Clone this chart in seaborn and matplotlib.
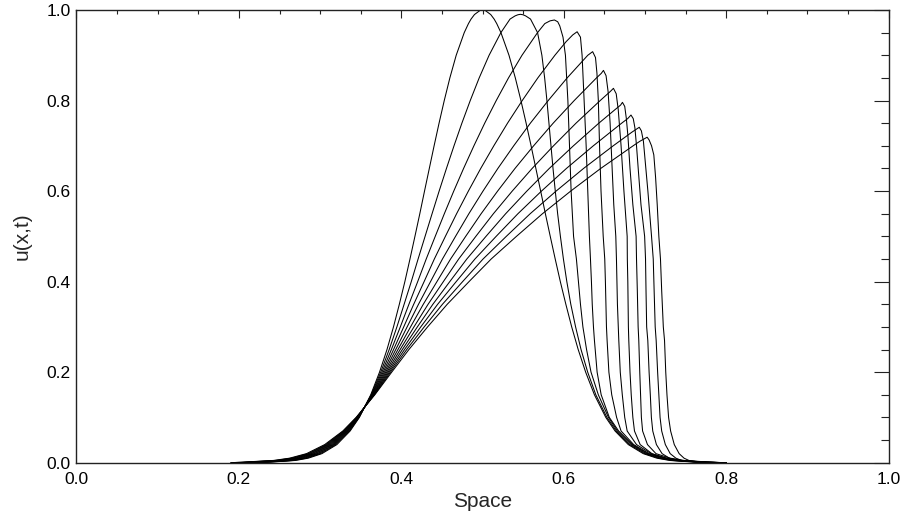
import matplotlib
matplotlib.use("Agg")
import matplotlib.pyplot as plt
import seaborn as sns
import pandas as pd
from matplotlib.ticker import MultipleLocator, FormatStrFormatter

# ---- data: u(x,t) profiles at 11 successive times ----
X_T00 = [0.20, 0.2372, 0.2698, 0.2854, 0.3022, 0.3206, 0.3369, 0.3483, 0.3623, 0.3731, 0.3823, 0.3903, 0.3975, 0.4043, 0.4106, 0.4167, 0.4227, 0.4285, 0.4344, 0.4403, 0.4464, 0.4528, 0.4597, 0.4675, 0.4774, 0.4826, 0.4858, 0.4900, 0.4968, 0.5000, 0.5032, 0.5100, 0.5142, 0.5174, 0.5226, 0.5325, 0.5403, 0.5472, 0.5536, 0.5597, 0.5656, 0.5715, 0.5773, 0.5833, 0.5894, 0.5957, 0.6025, 0.6097, 0.6177, 0.6269, 0.6377, 0.6517, 0.6631, 0.6794, 0.6978, 0.7146, 0.7302, 0.7628, 0.80]
U_T00 = [0.0, 0.001, 0.005, 0.01, 0.02, 0.04, 0.07, 0.1, 0.15, 0.2, 0.25, 0.3, 0.35, 0.4, 0.45, 0.5, 0.55, 0.6, 0.65, 0.7, 0.75, 0.8, 0.85, 0.9, 0.95, 0.97, 0.98, 0.99, 0.999, 1.0, 0.999, 0.99, 0.98, 0.97, 0.95, 0.9, 0.85, 0.8, 0.75, 0.7, 0.65, 0.6, 0.55, 0.5, 0.45, 0.4, 0.35, 0.3, 0.25, 0.2, 0.15, 0.1, 0.07, 0.04, 0.02, 0.01, 0.005, 0.001, 0.0]

X_T01 = [0.20, 0.2337, 0.2671, 0.2831, 0.3003, 0.3191, 0.3360, 0.3479, 0.3628, 0.3746, 0.3850, 0.3945, 0.4034, 0.4122, 0.4206, 0.4292, 0.4378, 0.4465, 0.4555, 0.4648, 0.4745, 0.4848, 0.4958, 0.5080, 0.5225, 0.5338, 0.5400, 0.5435,
         0.5465,
         0.5497, 0.5530, 0.5590, 0.5677, 0.5730, 0.5764, 0.5792, 0.5817, 0.5842, 0.5867, 0.5895, 0.5924, 0.5958, 0.5995, 0.6037, 0.6086, 0.6145, 0.6212, 0.6294, 0.6394, 0.6531, 0.6645, 0.6811, 0.6997, 0.7169, 0.7329, 0.7663, 0.80]
U_T01 = [0.0, 0.001, 0.005, 0.01, 0.02, 0.04, 0.07, 0.1, 0.15, 0.2, 0.25, 0.3, 0.35, 0.4, 0.45, 0.5, 0.55, 0.6, 0.65, 0.7, 0.75, 0.8, 0.85, 0.9, 0.95, 0.98, 0.987, 0.9895,
         0.9905,
         0.9895, 0.987, 0.98, 0.95, 0.9, 0.85, 0.8, 0.75, 0.7, 0.65, 0.6, 0.55, 0.5, 0.45, 0.4, 0.35, 0.3, 0.25, 0.2, 0.15, 0.1, 0.07, 0.04, 0.02, 0.01, 0.005, 0.001, 0.0]

X_T02 = [0.20, 0.2302, 0.2644, 0.2808, 0.2984, 0.3176, 0.3351, 0.3475, 0.3633, 0.3761, 0.3877, 0.3987, 0.4093, 0.4201, 0.4306, 0.4417, 0.4529, 0.4645, 0.4766, 0.4893, 0.5026, 0.5168, 0.5319, 0.5485, 0.5676, 0.5766, 0.5830,
         0.5884,
         0.5925, 0.5950, 0.5990, 0.6020, 0.6050, 0.6070, 0.6090, 0.6120, 0.6155, 0.6180, 0.6205, 0.6235, 0.6280, 0.6335, 0.6425, 0.6550, 0.6660, 0.6830, 0.7016, 0.7192, 0.7356, 0.7698, 0.80]
U_T02 = [0.0, 0.001, 0.005, 0.01, 0.02, 0.04, 0.07, 0.1, 0.15, 0.2, 0.25, 0.3, 0.35, 0.4, 0.45, 0.5, 0.55, 0.6, 0.65, 0.7, 0.75, 0.8, 0.85, 0.9, 0.95, 0.97, 0.976,
         0.978,
         0.974, 0.965, 0.94, 0.9, 0.8, 0.7, 0.6, 0.5, 0.45, 0.4, 0.35, 0.3, 0.25, 0.2, 0.15, 0.1, 0.07, 0.04, 0.02, 0.01, 0.005, 0.001, 0.0]

X_T03 = [0.20, 0.2267, 0.2617, 0.2785, 0.2965, 0.3161, 0.3342, 0.3471, 0.3638, 0.3776, 0.3904, 0.4029, 0.4152, 0.4280, 0.4406, 0.4542, 0.4680, 0.4825, 0.4977, 0.5138, 0.5307, 0.5488, 0.5680, 0.5890, 0.6028, 0.6110,
         0.6164,
         0.6205, 0.6225, 0.6250, 0.6275, 0.6295, 0.6315, 0.6328, 0.6340, 0.6350, 0.6365, 0.6377, 0.6410, 0.6460, 0.6560, 0.6675, 0.6845, 0.7035, 0.7215, 0.7380, 0.7730, 0.80]
U_T03 = [0.0, 0.001, 0.005, 0.01, 0.02, 0.04, 0.07, 0.1, 0.15, 0.2, 0.25, 0.3, 0.35, 0.4, 0.45, 0.5, 0.55, 0.6, 0.65, 0.7, 0.75, 0.8, 0.85, 0.9, 0.93, 0.945,
         0.952,
         0.94, 0.9, 0.8, 0.7, 0.6, 0.5, 0.45, 0.4, 0.35, 0.3, 0.27, 0.2, 0.15, 0.1, 0.07, 0.04, 0.02, 0.01, 0.005, 0.001, 0.0]

X_T04 = [0.20, 0.2232, 0.2590, 0.2762, 0.2946, 0.3146, 0.3333, 0.3467, 0.3643, 0.3791, 0.3931, 0.4071, 0.4211, 0.4359, 0.4506, 0.4667, 0.4831, 0.5005, 0.5188, 0.5383, 0.5588, 0.5808, 0.6041, 0.6295,
         0.6355,
         0.6390, 0.6408, 0.6425, 0.6440, 0.6458, 0.6485, 0.6504, 0.6512, 0.6525, 0.6533, 0.6555, 0.6590, 0.6650, 0.6705, 0.6860, 0.7050, 0.7240, 0.7410, 0.7760, 0.80]
U_T04 = [0.0, 0.001, 0.005, 0.01, 0.02, 0.04, 0.07, 0.1, 0.15, 0.2, 0.25, 0.3, 0.35, 0.4, 0.45, 0.5, 0.55, 0.6, 0.65, 0.7, 0.75, 0.8, 0.85, 0.9,
         0.908,
         0.895, 0.86, 0.8, 0.7, 0.6, 0.5, 0.45, 0.4, 0.3, 0.27, 0.2, 0.15, 0.1, 0.07, 0.04, 0.02, 0.01, 0.005, 0.001, 0.0]

X_T05 = [0.20, 0.2197, 0.2563, 0.2739, 0.2927, 0.3131, 0.3324, 0.3463, 0.3648, 0.3806, 0.3958, 0.4113, 0.4270, 0.4438, 0.4606, 0.4792, 0.4982, 0.5185, 0.5399, 0.5628, 0.5869, 0.6128, 0.6402, 0.6461,
         0.6488,
         0.6520, 0.6545, 0.6570, 0.6595, 0.6615, 0.6640, 0.6648, 0.6660, 0.6677, 0.6695, 0.6720, 0.6750, 0.6780, 0.6895, 0.7075, 0.7260, 0.7440, 0.7780, 0.80]
U_T05 = [0.0, 0.001, 0.005, 0.01, 0.02, 0.04, 0.07, 0.1, 0.15, 0.2, 0.25, 0.3, 0.35, 0.4, 0.45, 0.5, 0.55, 0.6, 0.65, 0.7, 0.75, 0.8, 0.85, 0.86,
         0.8666,
         0.855, 0.82, 0.75, 0.65, 0.57, 0.5, 0.45, 0.35, 0.27, 0.2, 0.15, 0.1, 0.07, 0.04, 0.02, 0.01, 0.005, 0.001, 0.0]

X_T06 = [0.20, 0.2162, 0.2536, 0.2716, 0.2908, 0.3116, 0.3315, 0.3459, 0.3653, 0.3821, 0.3985, 0.4155, 0.4329, 0.4517, 0.4706, 0.4917, 0.5133, 0.5365, 0.5610, 0.5873, 0.6150, 0.6448, 0.6572,
         0.6611,
         0.6645, 0.6670, 0.6705, 0.6740, 0.6780, 0.6782, 0.6788, 0.6795, 0.6800, 0.6815, 0.6830, 0.6850, 0.6870, 0.6940, 0.7085, 0.7265, 0.7440, 0.7780, 0.80]
U_T06 = [0.0, 0.001, 0.005, 0.01, 0.02, 0.04, 0.07, 0.1, 0.15, 0.2, 0.25, 0.3, 0.35, 0.4, 0.45, 0.5, 0.55, 0.6, 0.65, 0.7, 0.75, 0.8, 0.82,
         0.827,
         0.815, 0.78, 0.7, 0.6, 0.5, 0.45, 0.4, 0.3, 0.27, 0.2, 0.15, 0.1, 0.07, 0.04, 0.02, 0.01, 0.005, 0.001, 0.0]

X_T07 = [0.20, 0.2127, 0.2509, 0.2693, 0.2889, 0.3101, 0.3306, 0.3455, 0.3658, 0.3836, 0.4012, 0.4197, 0.4388, 0.4596, 0.4806, 0.5042, 0.5284, 0.5545, 0.5821, 0.6118, 0.6431, 0.6631, 0.6699,
         0.6722,
         0.6750, 0.6770, 0.6790, 0.6815, 0.6850, 0.6890, 0.6895, 0.6905, 0.6915, 0.6923, 0.6935, 0.6945, 0.6955, 0.6970, 0.7030, 0.7135, 0.7310, 0.7480, 0.7820, 0.80]
U_T07 = [0.0, 0.001, 0.005, 0.01, 0.02, 0.04, 0.07, 0.1, 0.15, 0.2, 0.25, 0.3, 0.35, 0.4, 0.45, 0.5, 0.55, 0.6, 0.65, 0.7, 0.75, 0.78, 0.79,
         0.796,
         0.787, 0.76, 0.72, 0.65, 0.57, 0.5, 0.45, 0.38, 0.3, 0.27, 0.2, 0.15, 0.1, 0.07, 0.04, 0.02, 0.01, 0.005, 0.001, 0.0]

X_T08 = [0.20, 0.2092, 0.2482, 0.2670, 0.2870, 0.3086, 0.3297, 0.3451, 0.3663, 0.3851, 0.4039, 0.4239, 0.4447, 0.4675, 0.4906, 0.5167, 0.5435, 0.5725, 0.6032, 0.6363, 0.6712, 0.6786,
         0.6827,
         0.6855, 0.6875, 0.6895, 0.6920, 0.6950, 0.6995, 0.7006, 0.7012, 0.7020, 0.7034, 0.7050, 0.7065, 0.7078, 0.7095, 0.7140, 0.7210, 0.7300, 0.7400, 0.7700, 0.80]
U_T08 = [0.0, 0.001, 0.005, 0.01, 0.02, 0.04, 0.07, 0.1, 0.15, 0.2, 0.25, 0.3, 0.35, 0.4, 0.45, 0.5, 0.55, 0.6, 0.65, 0.7, 0.75, 0.76,
         0.768,
         0.76, 0.74, 0.7, 0.64, 0.57, 0.5, 0.45, 0.38, 0.3, 0.27, 0.2, 0.15, 0.1, 0.07, 0.04, 0.02, 0.01, 0.005, 0.001, 0.0]

X_T09 = [0.19, 0.2057, 0.2455, 0.2647, 0.2851, 0.3071, 0.3288, 0.3447, 0.3668, 0.3866, 0.4066, 0.4281, 0.4506, 0.4754, 0.5006, 0.5292, 0.5586, 0.5905, 0.6243, 0.6608, 0.6837,
         0.6929,
         0.6955, 0.6980, 0.7005, 0.7035, 0.7080, 0.7101, 0.7112, 0.7125, 0.7137, 0.7155, 0.7170, 0.7185, 0.7205, 0.7250, 0.7310, 0.7380, 0.7450, 0.7650, 0.80]
U_T09 = [0.0, 0.001, 0.005, 0.01, 0.02, 0.04, 0.07, 0.1, 0.15, 0.2, 0.25, 0.3, 0.35, 0.4, 0.45, 0.5, 0.55, 0.6, 0.65, 0.7, 0.73,
         0.741,
         0.733, 0.71, 0.66, 0.6, 0.5, 0.45, 0.38, 0.3, 0.27, 0.2, 0.15, 0.1, 0.07, 0.04, 0.02, 0.01, 0.005, 0.001, 0.0]

X_T10 = [0.19, 0.2022, 0.2428, 0.2624, 0.2832, 0.3056, 0.3279, 0.3443, 0.3673, 0.3881, 0.4093, 0.4323, 0.4565, 0.4833, 0.5106, 0.5417, 0.5737, 0.6085, 0.6454, 0.6853, 0.6936,
         0.7026,
         0.7050, 0.7080, 0.7108, 0.7130, 0.7150, 0.7170, 0.7190, 0.7205, 0.7225, 0.7240, 0.7255, 0.7270, 0.7290, 0.7315, 0.7360, 0.7420, 0.7480, 0.7540, 0.7670, 0.80]
U_T10 = [0.0, 0.001, 0.005, 0.01, 0.02, 0.04, 0.07, 0.1, 0.15, 0.2, 0.25, 0.3, 0.35, 0.4, 0.45, 0.5, 0.55, 0.6, 0.65, 0.7, 0.71,
         0.719,
         0.713, 0.70, 0.68, 0.63, 0.57, 0.5, 0.45, 0.38, 0.3, 0.27, 0.2, 0.15, 0.1, 0.07, 0.04, 0.02, 0.01, 0.005, 0.001, 0.0]

X_TICKS = [0.0, 0.2, 0.4, 0.6, 0.8, 1.0]
Y_TICKS = [0.0, 0.2, 0.4, 0.6, 0.8, 1.0]
X_LABEL = "Space"
Y_LABEL = "u(x,t)"

CURVES = [(X_T00, U_T00), (X_T01, U_T01), (X_T02, U_T02), (X_T03, U_T03),
          (X_T04, U_T04), (X_T05, U_T05), (X_T06, U_T06), (X_T07, U_T07),
          (X_T08, U_T08), (X_T09, U_T09), (X_T10, U_T10)]

frames = []
for i, (xs, us) in enumerate(CURVES):
    frames.append(pd.DataFrame({"x": xs, "u": us, "curve": f"t{i:02d}"}))
df = pd.concat(frames, ignore_index=True)

sns.set_theme(style="white")
plt.rcParams["font.family"] = ["Liberation Sans", "DejaVu Sans"]

fig = plt.figure(figsize=(9.05, 5.16), dpi=100)
ax = fig.add_axes([0.0845, 0.1033, 0.8975, 0.8773])

sns.lineplot(data=df, x="x", y="u", hue="curve", palette=["black"] * len(CURVES),
             estimator=None, sort=False, legend=False, linewidth=0.75, ax=ax)

ax.set_xlim(0, 1)
ax.set_ylim(0, 1)
ax.set_xticks(X_TICKS)
ax.set_yticks(Y_TICKS)
ax.xaxis.set_minor_locator(MultipleLocator(0.05))
ax.yaxis.set_minor_locator(MultipleLocator(0.05))
ax.xaxis.set_major_formatter(FormatStrFormatter("%.1f"))
ax.yaxis.set_major_formatter(FormatStrFormatter("%.1f"))

ax.tick_params(which="both", direction="in", top=True, right=True, colors="#222222",
               labelcolor="black", labelsize=12.5, width=0.8)
ax.tick_params(axis="y", which="major", length=10.8, pad=4)
ax.tick_params(axis="y", which="minor", length=5.8)
ax.tick_params(axis="x", which="major", length=6, pad=6.5)
ax.tick_params(axis="x", which="minor", length=3)

for sp in ax.spines.values():
    sp.set_color("#222222")
    sp.set_linewidth(1.0)

ax.set_xlabel(X_LABEL, fontsize=15, labelpad=4)
ax.set_ylabel(Y_LABEL, fontsize=15, labelpad=11)

fig.savefig("out.png", dpi=100, facecolor="white")
